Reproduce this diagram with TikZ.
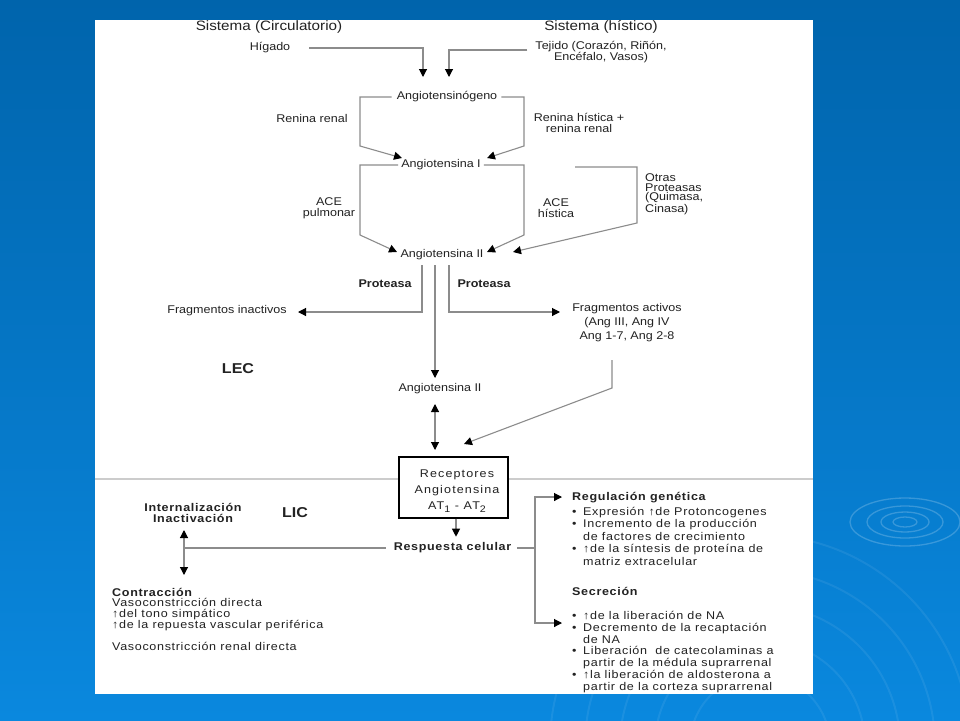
\documentclass[tikz,border=0pt]{standalone}
\usepackage{fontspec}
\setmainfont{Liberation Sans}[FakeStretch=1.12]
\newfontfamily\licfont{Liberation Sans}[FakeStretch=1.12,LetterSpace=6]
\newfontfamily\boxfont{Liberation Sans}[FakeStretch=1.12,LetterSpace=10]
\usetikzlibrary{arrows.meta}
\definecolor{ink}{HTML}{222222}
\definecolor{lncol}{HTML}{8C8C8C}
\definecolor{sepcol}{HTML}{CCCCCC}
\definecolor{bgtop}{HTML}{0064AC}
\definecolor{bgbot}{HTML}{0A88DE}
\newcommand\lowdigit[1]{\raisebox{-2.5pt}{\fontsize{9.5}{9.5}\selectfont #1}}
\newcommand\bul{\makebox[11pt][l]{•}}
\newcommand\hangsp{\hspace*{11pt}}
\tikzset{
  txt/.style={inner sep=0pt, text=ink, align=center, font=\fontsize{11.2}{10.5}\selectfont},
  bigtxt/.style={inner sep=0pt, text=ink, font=\fontsize{13.6}{14}\selectfont},
  boldtxt/.style={inner sep=0pt, text=ink, font=\fontsize{11.2}{10.5}\selectfont\bfseries},
  zone/.style={inner sep=0pt, text=ink, font=\fontsize{14.3}{15}\selectfont\bfseries},
  lictxt/.style={inner sep=0pt, text=ink, align=left, anchor=west},
  ln/.style={draw=lncol, line width=1.1pt},
  arr/.style={ln, -{Triangle[length=8pt,width=8pt,color=black,fill=black]}},
  darr/.style={ln, {Triangle[length=8pt,width=8pt,color=black,fill=black]}-{Triangle[length=8pt,width=8pt,color=black,fill=black]}},
  recbox/.style={draw=black, line width=1.4pt, fill=white, minimum width=109pt, minimum height=61pt, inner sep=0pt},
}
\begin{document}
\begin{tikzpicture}[x=1pt,y=-1pt]
\useasboundingbox (0,0) rectangle (960,720);
% background
\shade[top color=bgtop, bottom color=bgbot] (0,0) rectangle (960,720);
\begin{scope}[white, opacity=0.07, line width=2pt]
  \draw (760,745) circle [radius=70pt];
  \draw (760,745) circle [radius=105pt];
  \draw (760,745) circle [radius=140pt];
  \draw (760,745) circle [radius=175pt];
  \draw (760,745) circle [radius=210pt];
\end{scope}
\begin{scope}[white, opacity=0.2, line width=1.3pt]
  \draw (905,522) ellipse [x radius=12pt, y radius=5pt];
  \draw (905,522) ellipse [x radius=24pt, y radius=10pt];
  \draw (905,522) ellipse [x radius=38pt, y radius=16pt];
  \draw (905,522) ellipse [x radius=55pt, y radius=24pt];
\end{scope}
% panel
\fill[white] (95,20) rectangle (813,694);
\draw[sepcol, line width=2pt] (95,479) -- (813,479);

% ---------- texts (LEC) ----------
\node[bigtxt] (sc) at (269,27) {Sistema (Circulatorio)};
\node[bigtxt] (sh) at (601,27) {Sistema (hístico)};
\node[txt] (hig) at (270,48) {Hígado};
\node[txt] (tej) at (601,52) {Tejido (Corazón, Riñón,\\Encéfalo, Vasos)};
\node[txt] (agn) at (447,97) {Angiotensinógeno};
\node[txt] (rr) at (312,118) {Renina renal};
\node[txt] (rh) at (579,123) {Renina hística +\\renina renal};
\node[txt] (a1) at (441,165) {Angiotensina I};
\node[txt] (acep) at (329,208) {ACE\\pulmonar};
\node[txt] (aceh) at (556,208) {ACE\\hística};
\node[txt, align=left, anchor=west, font=\fontsize{11.2}{9.8}\selectfont] (otr) at (645,194) {Otras\\Proteasas\\(Quimasa,\\Cinasa)};
\node[txt] (a2) at (442,255) {Angiotensina II};
\node[boldtxt] (p1) at (385,284) {Proteasa};
\node[boldtxt] (p2) at (484,284) {Proteasa};
\node[txt] (fi) at (227,311) {Fragmentos inactivos};
\node[txt, font=\fontsize{11.2}{14}\selectfont] (fa) at (627,323) {Fragmentos activos\\(Ang III, Ang IV\\Ang 1-7, Ang 2-8};
\node[zone] (lec) at (238,369) {LEC};
\node[txt] (a2b) at (440,389) {Angiotensina II};

% ---------- receptor box ----------
\node[recbox] (rec) at (453.5,487.5) {};
\node[inner sep=0pt, text=ink, align=center, font=\boxfont\fontsize{11.2}{16}\selectfont] (rect) at (457,491) {Receptores\\Angiotensina\\AT\lowdigit{1} - AT\lowdigit{2}};

% ---------- texts (LIC) ----------
\node[inner sep=0pt, text=ink, font=\licfont\fontsize{11.2}{12}\selectfont\bfseries] (rc) at (452.5,548) {Respuesta celular};
\node[inner sep=0pt, text=ink, align=center, font=\licfont\fontsize{11.2}{11}\selectfont\bfseries] (int) at (193,512.5) {Internalización\\Inactivación};
\node[zone] (lic) at (295,513) {LIC};
\node[lictxt, font=\licfont\fontsize{11.2}{10.7}\selectfont] (con) at (112,619) {\textbf{Contracción}\\
Vasoconstricción directa\\
↑del tono simpático\\
↑de la repuesta vascular periférica\\[11.3pt]
Vasoconstricción renal directa};
\node[lictxt, font=\licfont\fontsize{11.2}{12.5}\selectfont] (reg) at (572,528.5) {\textbf{Regulación genética}\\[2.5pt]
\bul Expresión ↑de Protoncogenes\\
\bul Incremento de la producción\\
\hangsp de factores de crecimiento\\
\bul ↑de la síntesis de proteína de\\
\hangsp matriz extracelular};
\node[lictxt, font=\licfont\fontsize{11.2}{11.7}\selectfont] (sec) at (572,640) {\textbf{Secreción}\\[12.3pt]
\bul ↑de la liberación de NA\\
\bul Decremento de la recaptación\\
\hangsp de NA\\
\bul Liberación\ \ de catecolaminas a\\
\hangsp partir de la médula suprarrenal\\
\bul ↑la liberación de aldosterona a\\
\hangsp partir de la corteza suprarrenal};

% ---------- connectors ----------
\coordinate (hTip) at (423,77);
\coordinate (tTip) at (449,77);
\draw[arr] ([xshift=19pt]hig.east) -| (hTip);
\draw[arr] ([xshift=-8pt,yshift=2pt]tej.west) -| (tTip);

\coordinate (agL) at (360,146);
\coordinate (agR) at (524,146);
\coordinate (a1L) at (402,158);
\coordinate (a1R) at (487,158);
\draw[arr] ([xshift=-5pt]agn.west) -| (agL) -- (a1L);
\draw[arr] ([xshift=4pt]agn.east) -| (agR) -- (a1R);

\coordinate (a1bL) at (360,235);
\coordinate (a1bR) at (524,235);
\coordinate (a2L) at (397,252);
\coordinate (a2R) at (487,252);
\draw[arr] ([xshift=-3pt]a1.west) -| (a1bL) -- (a2L);
\draw[arr] ([xshift=3pt]a1.east) -| (a1bR) -- (a2R);
\coordinate (oS) at (575,167);
\coordinate (oC) at (637,223);
\coordinate (a2O) at (513,252);
\draw[arr] (oS) -| (oC) -- (a2O);

\coordinate (fiTip) at (298,312);
\coordinate (faTip) at (560,312);
\coordinate (a2bTip) at (435,378);
\draw[arr] ([xshift=-20pt,yshift=-5pt]a2.south) |- (fiTip);
\draw[arr] ([xshift=7pt,yshift=-5pt]a2.south) |- (faTip);
\draw[arr] ([xshift=-7pt,yshift=-5pt]a2.south) -- (a2bTip);

\coordinate (faA) at (612,360);
\coordinate (faB) at (612,388);
\coordinate (recTip) at (464,444);
\draw[arr] (faA) -- (faB) -- (recTip);

\coordinate (dA) at (435,404);
\coordinate (dB) at (435,450);
\draw[darr] (dA) -- (dB);

\draw[arr] ([xshift=2.5pt]rec.south) -- ++(0,18);

\coordinate (lj) at (184,548);
\coordinate (lu) at (184,530);
\coordinate (ld) at (184,575);
\draw[ln] ([xshift=-8pt]rc.west) -- (lj);
\draw[darr] (lu) -- (ld);
\coordinate (rj) at (535,548);
\coordinate (ru) at (562,497);
\coordinate (rd) at (562,623);
\draw[ln] ([xshift=6pt]rc.east) -- (rj);
\draw[arr] (rj) |- (ru);
\draw[arr] (rj) |- (rd);
\end{tikzpicture}
\end{document}
